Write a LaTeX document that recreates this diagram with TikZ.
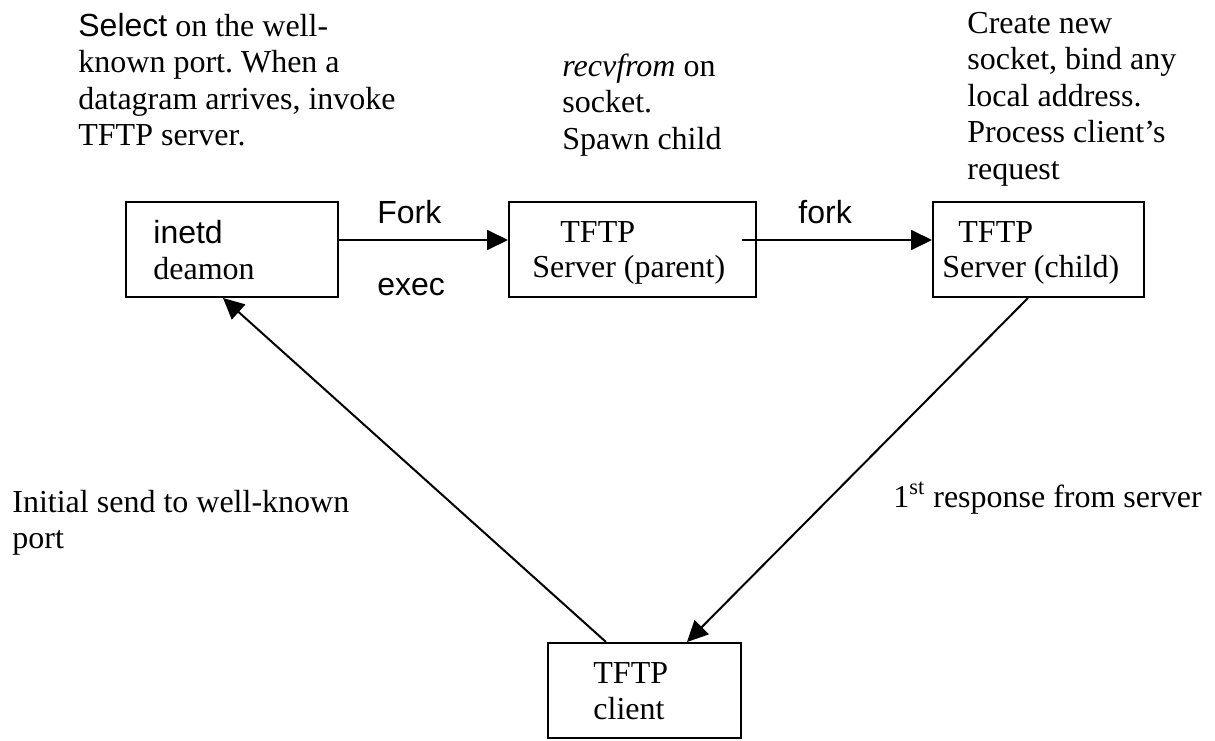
\documentclass[tikz,border=0pt]{standalone}
\usepackage{fontspec}
\setmainfont{Liberation Serif}
\newfontfamily\arialf{Liberation Sans}
\usetikzlibrary{arrows.meta}
\frenchspacing
\begin{document}
\begin{tikzpicture}[x=0.5pt,y=-0.5pt,
  every node/.style={inner sep=0pt, font=\fontsize{16}{18.25}\selectfont},
  procbox/.style={draw, line width=1pt, minimum height=47.5pt},
  txt/.style={anchor=base west},
  arr/.style={line width=1pt, -{Triangle[length=10.5pt,width=10pt]}}]
\useasboundingbox (0,0) rectangle (1215,740);

% process boxes
\node[procbox, minimum width=106pt]   (inetd)  at (232,249.5) {};
\node[procbox, minimum width=123.5pt] (parent) at (632.5,249.5) {};
\node[procbox, minimum width=105.5pt] (child)  at (1038.5,249.5) {};
\node[procbox, minimum width=96.5pt]  (client) at (644.5,690.5) {};

% box labels
\node[txt] (inetdtxt) at (153,243) {\vtop{\hbox{\arialf inetd}\hbox{deamon}}};
\node[txt] (partftp)  at (560,242) {TFTP};
\node[txt] (parsrv)   at (532,277) {Server (parent)};
\node[txt] (chtftp)   at (958,242) {TFTP};
\node[txt] (chsrv)    at (942,277) {Server (child)};
\node[txt] (cltxt)    at (593,683) {\vtop{\hbox{TFTP}\hbox{client}}};

% notes above the boxes
\node[txt] (selnote) at (78,36) {\vtop{%
  \hbox{{\arialf Select} on the well-}%
  \hbox{known port. When a}%
  \hbox{datagram arrives, invoke}%
  \hbox{TFTP server.}}};
\node[txt] (recvnote) at (562,76) {\vtop{%
  \hbox{\textit{recvfrom} on}%
  \hbox{socket.}%
  \hbox{Spawn child}}};
\node[txt] (newnote) at (967,33) {\vtop{%
  \hbox{Create new}%
  \hbox{socket, bind any}%
  \hbox{local address.}%
  \hbox{Process client’s}%
  \hbox{request}}};

% arrow labels
\node[txt] (forkA) at (377,223) {\arialf Fork};
\node[txt] (execA) at (377,295) {\arialf exec};
\node[txt] (forkB) at (798,223) {\arialf fork};
\node[txt] (sendnote) at (12,512) {\vtop{\hbox{Initial send to well-known}\hbox{port}}};
\node[txt] (respnote) at (893,507) {1\textsuperscript{st} response from server};

% connectors
\draw[arr] ([yshift=4.75pt]inetd.east) -- ([yshift=4.75pt]parent.west);
\draw[arr] ([xshift=-7.5pt,yshift=4.75pt]parent.east) -- ([yshift=4.75pt]child.west);
\draw[arr] ([xshift=-19.25pt]client.north) -- ([xshift=-4.5pt]inetd.south);
\draw[arr] ([xshift=-5.25pt]child.south) -- ([xshift=21.25pt]client.north);
\end{tikzpicture}
\end{document}
